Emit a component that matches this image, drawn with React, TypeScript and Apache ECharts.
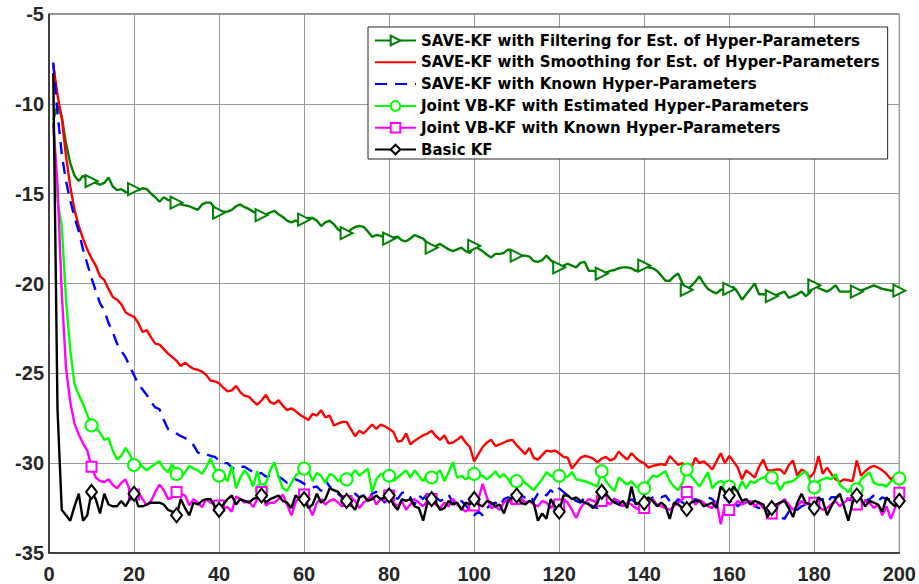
import React, { useEffect, useRef } from "react";
import * as echarts from "echarts";

const seriesNames = [
  "SAVE-KF with Filtering for Est. of Hyper-Parameters",
  "SAVE-KF with Smoothing for Est. of Hyper-Parameters",
  "SAVE-KF with Known Hyper-Parameters",
  "Joint VB-KF with Estimated Hyper-Parameters",
  "Joint VB-KF with Known Hyper-Parameters",
  "Basic KF",
];

const xTicks = [0, 20, 40, 60, 80, 100, 120, 140, 160, 180, 200];
const yTicks = [-35, -30, -25, -20, -15, -10, -5];

// values at x = 1..200
const saveFiltering = [
  -10.9, -10.1, -10.7, -12.2, -13.3, -14.0, -14.3, -14.0, -14.2, -14.3,
  -14.4, -14.5, -14.4, -14.1, -14.6, -14.8, -14.75, -14.9, -14.95, -14.75,
  -14.8, -14.7, -14.75, -15.0, -15.2, -15.45, -15.2, -15.35, -15.4, -15.5,
  -15.6, -15.65, -15.7, -15.8, -15.9, -15.6, -15.5, -15.5, -15.8, -16.05,
  -16.0, -16.0, -15.9, -15.7, -15.6, -15.75, -15.85, -16.0, -16.1, -16.2,
  -16.15, -16.05, -15.95, -16.15, -16.3, -16.5, -16.6, -16.5, -16.6, -16.45,
  -16.35, -16.35, -16.5, -16.8, -16.6, -16.5, -16.7, -17.0, -17.15, -17.2,
  -17.0, -16.85, -16.8, -16.85, -17.1, -17.4, -17.3, -17.35, -17.45, -17.5,
  -17.45, -17.4, -17.6, -17.65, -17.5, -17.3, -17.4, -17.5, -17.75, -18.0,
  -17.9, -17.8, -17.95, -18.1, -18.2, -18.1, -18.0, -18.2, -18.3, -17.9,
  -18.05, -18.2, -18.4, -18.55, -18.35, -18.35, -18.3, -18.1, -18.3, -18.45,
  -18.45, -18.45, -18.5, -18.75, -18.8, -18.7, -18.45, -18.7, -18.9, -19.1,
  -19.0, -18.9, -19.0, -19.1, -18.85, -18.8, -19.3, -19.3, -19.35, -19.45,
  -19.4, -19.3, -19.25, -19.15, -19.1, -19.1, -19.15, -19.3, -19.2, -19.0,
  -19.1, -19.15, -19.3, -19.55, -19.85, -19.85, -19.6, -19.45, -20.0, -20.35,
  -20.15, -19.9, -19.6, -20.0, -20.3, -20.45, -20.55, -20.35, -20.35, -20.3,
  -20.2, -20.5, -20.9, -20.6, -20.3, -20.0, -20.6, -20.6, -20.65, -20.7,
  -20.65, -20.55, -20.45, -20.8, -20.7, -20.6, -20.45, -20.7, -20.5, -20.1,
  -20.25, -20.35, -20.45, -20.3, -20.1, -20.45, -20.45, -20.45, -20.4, -20.45,
  -20.4, -20.3, -20.2, -20.1, -20.2, -20.3, -20.35, -20.4, -20.4, -20.4,
];

const saveSmoothing = [
  -7.8, -9.5, -10.8, -12.9, -14.6, -15.9, -16.8, -17.5, -18.1, -18.6,
  -19.0, -19.6, -19.8, -20.3, -20.75, -20.9, -21.15, -21.6, -21.75, -21.85,
  -22.2, -22.7, -22.6, -23.0, -23.35, -23.4, -23.65, -23.9, -24.1, -24.3,
  -24.6, -24.4, -24.6, -24.75, -24.8, -24.9, -25.1, -25.4, -25.45, -25.55,
  -25.8, -26.0, -25.95, -25.7, -26.05, -26.25, -26.3, -26.55, -26.75, -26.5,
  -26.2, -26.6, -26.7, -26.5, -26.8, -27.05, -26.95, -27.1, -27.3, -27.45,
  -27.6, -27.25, -27.35, -27.05, -27.45, -27.35, -27.9, -27.8, -27.7, -27.7,
  -28.1, -28.5, -28.2, -28.35, -28.1, -27.85, -28.1, -27.85, -27.95, -28.1,
  -28.25, -28.8, -28.75, -28.35, -28.95, -28.75, -28.6, -28.45, -28.35, -28.2,
  -28.5, -28.7, -28.45, -28.9, -28.85, -28.7, -28.5, -28.85, -29.1, -29.9,
  -29.5, -29.1, -28.85, -28.7, -29.05, -28.95, -28.85, -28.75, -28.7, -29.0,
  -29.25, -29.5, -29.15, -29.7, -29.8, -29.55, -29.3, -29.35, -29.3, -29.45,
  -29.65, -29.7, -30.3, -30.0, -29.7, -29.6, -29.65, -29.75, -29.95, -29.75,
  -29.65, -29.85, -29.75, -29.35, -29.6, -29.8, -29.45, -29.7, -29.9, -30.0,
  -30.25, -30.15, -30.1, -30.05, -30.1, -29.6, -29.85, -30.1, -30.0, -30.2,
  -30.35, -29.7, -30.0, -29.9, -30.1, -30.35, -29.9, -29.45, -30.0, -29.6,
  -29.9, -30.25, -30.9, -30.4, -30.6, -30.8, -30.2, -29.8, -30.4, -30.4,
  -30.35, -30.35, -30.6, -30.1, -29.85, -30.7, -30.35, -30.5, -30.8, -30.5,
  -29.6, -30.6, -30.25, -30.6, -30.9, -31.05, -30.9, -30.95, -31.0, -29.85,
  -30.7, -30.45, -30.25, -30.15, -30.25, -30.4, -30.6, -30.9, -30.7, -30.85,
];

const saveKnown = [
  -7.7, -10.5, -12.8, -14.3, -15.4, -16.3, -17.1, -18.1, -18.9, -19.7,
  -20.4, -21.1, -21.5, -22.2, -22.7, -23.35, -23.75, -24.1, -24.6, -25.1,
  -25.6, -25.9, -26.2, -26.6, -26.9, -27.0, -27.6, -28.1, -28.2, -28.35,
  -28.5, -28.6, -28.8, -29.0, -29.4, -29.55, -29.5, -29.6, -29.65, -29.85,
  -30.0, -30.0, -30.25, -30.35, -30.2, -30.2, -30.35, -30.5, -30.6, -30.55,
  -30.75, -30.7, -30.8, -30.75, -30.9, -31.1, -31.0, -30.9, -31.0, -31.15,
  -31.3, -31.35, -31.3, -31.55, -30.95, -31.3, -31.5, -31.7, -31.9, -32.0,
  -31.85, -31.7, -31.9, -31.8, -32.1, -31.7, -31.6, -31.9, -32.2, -31.85,
  -31.8, -32.0, -31.65, -31.6, -31.9, -32.3, -31.8, -32.0, -31.7, -31.6,
  -31.9, -32.1, -32.0, -31.75, -32.2, -32.4, -32.1, -32.35, -32.6, -32.9,
  -32.7, -32.9, -32.5, -32.3, -32.2, -32.4, -32.0, -31.9, -32.0, -32.2,
  -31.8, -31.9, -31.8, -32.1, -31.7, -31.6, -31.8, -31.5, -31.7, -31.4,
  -31.6, -31.8, -32.0, -32.1, -32.2, -31.9, -32.3, -32.4, -32.5, -32.2,
  -31.6, -31.7, -32.0, -32.3, -32.4, -32.2, -32.0, -32.2, -32.3, -32.0,
  -32.1, -31.9, -31.8, -31.9, -31.8, -32.1, -32.3, -32.0, -32.2, -32.3,
  -32.2, -32.0, -32.1, -32.1, -31.9, -32.0, -32.3, -32.1, -31.9, -32.2,
  -32.0, -32.4, -32.2, -32.2, -32.0, -32.4, -32.5, -32.3, -32.6, -32.8,
  -32.9, -33.0, -33.1, -32.7, -32.5, -32.6, -32.4, -32.3, -32.4, -32.2,
  -32.1, -32.0, -32.2, -31.9, -31.9, -31.8, -31.8, -32.0, -32.1, -31.9,
  -32.0, -32.1, -32.0, -31.8, -32.1, -31.9, -32.0, -32.0, -31.9, -32.0,
];

const vbEstimated = [
  -11.0, -15.4, -16.8, -20.9, -23.7, -25.6, -26.2, -26.7, -27.3, -27.9,
  -28.0, -28.3, -28.7, -28.6, -29.3, -29.8, -29.6, -29.15, -29.5, -30.1,
  -29.9, -30.2, -30.4, -30.2, -30.05, -29.9, -30.3, -30.5, -30.05, -30.6,
  -30.8, -30.5, -30.15, -30.3, -30.4, -30.6, -30.2, -29.75, -30.3, -30.7,
  -30.7, -31.0, -30.15, -31.4, -30.8, -30.4, -30.7, -31.3, -30.45, -31.5,
  -31.1, -30.4, -29.95, -30.75, -31.4, -31.55, -31.1, -30.7, -30.5, -30.3,
  -30.4, -31.0, -30.55, -30.7, -31.1, -30.6, -30.7, -31.0, -30.8, -30.9,
  -30.7, -30.4, -30.7, -30.5, -30.3, -31.6, -30.9, -30.6, -30.65, -30.7,
  -31.0, -30.8, -30.6, -30.4, -30.8, -30.4, -30.7, -31.0, -30.6, -30.8,
  -30.6, -30.4, -31.0, -30.5, -29.95, -30.8, -30.7, -30.9, -30.75, -30.6,
  -30.65, -30.7, -30.9, -30.7, -30.45, -30.8, -30.6, -30.9, -31.25, -31.0,
  -30.9, -31.1, -31.3, -31.5, -31.2, -30.9, -30.5, -30.7, -30.8, -30.7,
  -30.8, -30.75, -30.5, -30.9, -30.95, -31.0, -31.1, -31.2, -31.3, -30.45,
  -31.0, -31.3, -31.55, -30.8, -31.0, -31.2, -31.0, -31.3, -31.35, -31.4,
  -31.0, -30.7, -30.75, -30.6, -30.45, -31.0, -31.3, -31.5, -31.1, -30.35,
  -30.7, -31.0, -31.3, -30.9, -30.5, -31.4, -31.1, -31.0, -31.1, -31.3,
  -31.45, -31.55, -31.0, -31.4, -31.0, -31.1, -30.9, -30.8, -30.75, -30.8,
  -31.0, -31.5, -31.1, -31.05, -31.0, -30.8, -30.6, -30.45, -31.0, -31.35,
  -31.0, -30.9, -30.8, -30.9, -30.6, -31.2, -31.4, -31.6, -31.3, -31.45,
  -30.9, -30.7, -30.5, -31.1, -31.2, -31.2, -31.3, -31.0, -30.9, -30.85,
];

const vbKnown = [
  -11.1, -14.5, -20.5, -24.7, -26.6, -27.8, -28.4, -28.9, -29.3, -30.2,
  -30.8, -31.0, -31.05, -30.9, -31.2, -31.4, -31.1, -30.9, -31.5, -31.75,
  -31.6, -32.0, -32.35, -32.1, -31.6, -31.2, -31.5, -32.0, -31.9, -31.6,
  -31.7, -31.8, -32.35, -32.0, -32.2, -32.45, -32.0, -32.2, -32.3, -32.35,
  -32.5, -32.45, -32.7, -31.85, -32.0, -32.2, -32.1, -32.45, -32.0, -31.6,
  -32.35, -32.2, -32.2, -32.0, -31.75, -32.3, -32.9, -32.2, -31.8, -31.75,
  -32.4, -32.9, -32.2, -32.0, -32.3, -32.1, -32.0, -32.2, -32.4, -32.1,
  -31.9, -32.1, -32.5, -32.2, -32.0, -31.8, -32.3, -32.0, -31.9, -31.8,
  -32.2, -32.4, -32.1, -32.6, -32.3, -32.0, -32.2, -32.4, -32.1, -32.0,
  -32.3, -32.5, -32.2, -32.4, -32.0, -32.3, -32.5, -32.7, -32.5, -32.35,
  -32.0, -31.15, -31.9, -32.5, -32.4, -32.6, -32.2, -32.0, -32.3, -32.0,
  -31.9, -32.2, -32.1, -32.3, -32.4, -32.1, -32.2, -32.5, -32.2, -32.3,
  -32.0, -32.2, -32.6, -33.05, -32.5, -32.2, -32.0, -32.1, -32.2, -32.1,
  -32.15, -32.3, -32.0, -32.1, -32.4, -32.2, -32.3, -32.5, -32.6, -32.5,
  -32.2, -32.0, -32.3, -32.4, -32.5, -32.6, -32.4, -32.2, -32.0, -31.6,
  -31.8, -32.3, -32.1, -32.2, -32.4, -32.5, -32.1, -33.4, -32.3, -32.6,
  -32.4, -32.1, -32.3, -32.2, -32.1, -32.4, -32.2, -32.5, -32.6, -32.8,
  -32.5, -32.2, -32.0, -32.3, -32.6, -32.4, -32.1, -32.3, -32.2, -32.2,
  -32.4, -32.6, -32.5, -32.3, -32.1, -32.4, -32.2, -32.0, -31.9, -32.3,
  -32.4, -32.1, -32.2, -32.5, -32.3, -32.9, -32.4, -33.1, -32.5, -31.65,
];

const basicKF = [
  -8.3, -27.0, -32.6, -32.9, -33.2, -32.4, -31.7, -33.2, -32.9, -31.6,
  -32.0, -32.8, -31.7, -32.3, -32.4, -32.4, -32.1, -32.4, -32.0, -31.7,
  -32.4, -32.4, -32.3, -32.2, -32.2, -32.2, -32.3, -32.6, -32.7, -32.9,
  -32.0, -32.5, -32.9, -32.2, -32.3, -32.1, -32.0, -32.0, -32.4, -32.6,
  -32.3, -32.0, -31.8, -32.3, -32.0, -32.1, -32.2, -32.0, -31.9, -31.8,
  -32.2, -32.0, -31.9, -31.8, -32.1, -32.2, -32.5, -31.8, -32.0, -32.0,
  -32.5, -32.3, -31.7, -32.2, -32.0, -31.4, -31.5, -31.6, -31.9, -32.1,
  -32.3, -32.6, -31.9, -31.8, -32.1, -32.0, -31.8, -32.0, -31.9, -31.8,
  -32.3, -32.6, -32.0, -32.1, -32.0, -32.4, -32.5, -33.2, -32.2, -32.0,
  -32.2, -32.6, -32.5, -32.1, -32.3, -32.2, -32.6, -32.2, -32.3, -32.0,
  -32.3, -32.4, -32.1, -32.2, -32.4, -32.3, -32.8, -32.1, -31.9, -31.8,
  -32.2, -32.3, -32.1, -32.2, -33.2, -32.8, -33.1, -32.0, -32.4, -32.7,
  -31.8, -31.8, -32.0, -31.9, -32.1, -32.2, -32.3, -32.5, -32.2, -31.6,
  -31.7, -32.0, -32.2, -32.3, -32.1, -32.5, -31.3, -32.3, -32.2, -32.2,
  -31.9, -32.1, -32.4, -32.2, -32.4, -33.1, -32.2, -32.3, -32.5, -32.55,
  -32.2, -32.1, -32.1, -32.4, -32.3, -32.2, -32.5, -31.3, -31.6, -31.8,
  -31.3, -31.6, -32.1, -32.0, -32.3, -32.1, -32.2, -32.3, -33.0, -32.5,
  -32.3, -32.2, -32.1, -32.5, -33.0, -32.2, -31.7, -32.2, -32.3, -32.5,
  -31.9, -32.1, -32.9, -32.4, -32.0, -31.7, -32.4, -33.2, -32.2, -31.8,
  -32.0, -32.4, -32.1, -32.2, -32.3, -32.7, -31.9, -32.2, -32.4, -32.1,
];

const seriesValues = [saveFiltering, saveSmoothing, saveKnown, vbEstimated, vbKnown, basicKF];
const seriesColors = ["#008000", "#ff0000", "#0000ff", "#00ff00", "#ff00ff", "#000000"];
const seriesSymbols = ["emptyTriangle", "none", "none", "emptyCircle", "emptyRect", "emptyDiamond"];
const symbolSizes: any[] = [12, 0, 0, 12, 10, [11, 14]];
const symbolRotates = [-90, 0, 0, 0, 0, 0];
const markerStep = 10;

function buildData(vals: number[], hasMarker: boolean) {
  return vals.map((v, i) => {
    const x = i + 1;
    if (hasMarker && x % markerStep === 0) return [x, v];
    return { value: [x, v], symbol: "none" };
  });
}

export default function App() {
  const ref = useRef<HTMLDivElement>(null);
  useEffect(() => {
    if (!ref.current) return;
    const chart = echarts.init(ref.current, undefined, { renderer: "svg" });
    const font = "'Liberation Sans', Arial, Helvetica, sans-serif";
    const legendFont = "'DejaVu Sans', 'Liberation Sans', sans-serif";
    const series = seriesNames.map((name, k) => {
      const hasMarker = seriesSymbols[k] !== "none";
      return {
        name,
        type: "line",
        data: buildData(seriesValues[k], hasMarker),
        showAllSymbol: true,
        symbol: seriesSymbols[k],
        symbolSize: symbolSizes[k],
        symbolRotate: symbolRotates[k],
        lineStyle: {
          color: seriesColors[k],
          width: 2.4,
          type: k === 2 ? [12, 8] : "solid",
        },
        itemStyle: { color: seriesColors[k], borderColor: seriesColors[k], borderWidth: 2 },
        emphasis: { disabled: true },
        z: 3 + k * 0.01,
      };
    });
    const legendData = seriesNames.map((name, k) =>
      seriesSymbols[k] === "none"
        ? { name, itemStyle: { opacity: 0 } }
        : { name }
    );
    chart.setOption({
      animation: false,
      backgroundColor: "#fff",
      grid: {
        left: 49,
        top: 14,
        right: 18,
        bottom: 31,
        show: true,
        borderColor: "#262626",
        borderWidth: 1,
      },
      legend: {
        orient: "vertical",
        left: 368,
        top: 27,
        backgroundColor: "#fff",
        borderColor: "#262626",
        borderWidth: 1,
        padding: [6, 8, 2, 6],
        itemWidth: 41,
        itemHeight: 12,
        itemGap: 6.8,
        data: legendData,
        textStyle: { fontSize: 15, fontWeight: "bold", color: "#000", fontFamily: legendFont },
        selectedMode: false,
      },
      xAxis: {
        type: "value",
        min: xTicks[0],
        max: xTicks[xTicks.length - 1],
        interval: 20,
        axisLine: { show: true, lineStyle: { color: "#262626", width: 1.5 } },
        axisTick: { show: false },
        splitLine: { show: true, lineStyle: { color: "#999999", width: 1 } },
        axisLabel: {
          fontSize: 20,
          fontWeight: "bold",
          color: "#262626",
          fontFamily: font,
          margin: 11,
        },
      },
      yAxis: {
        type: "value",
        min: yTicks[0],
        max: yTicks[yTicks.length - 1],
        interval: 5,
        axisLine: { show: true, lineStyle: { color: "#262626", width: 1.5 } },
        axisTick: { show: false },
        splitLine: { show: true, lineStyle: { color: "#999999", width: 1 } },
        axisLabel: {
          fontSize: 20,
          fontWeight: "bold",
          color: "#262626",
          fontFamily: font,
          margin: 5,
        },
      },
      series,
    });
    return () => chart.dispose();
  }, []);
  return (
    <div
      ref={ref}
      style={{ position: "absolute", left: 0, top: 0, width: 919, height: 584 }}
    />
  );
}
